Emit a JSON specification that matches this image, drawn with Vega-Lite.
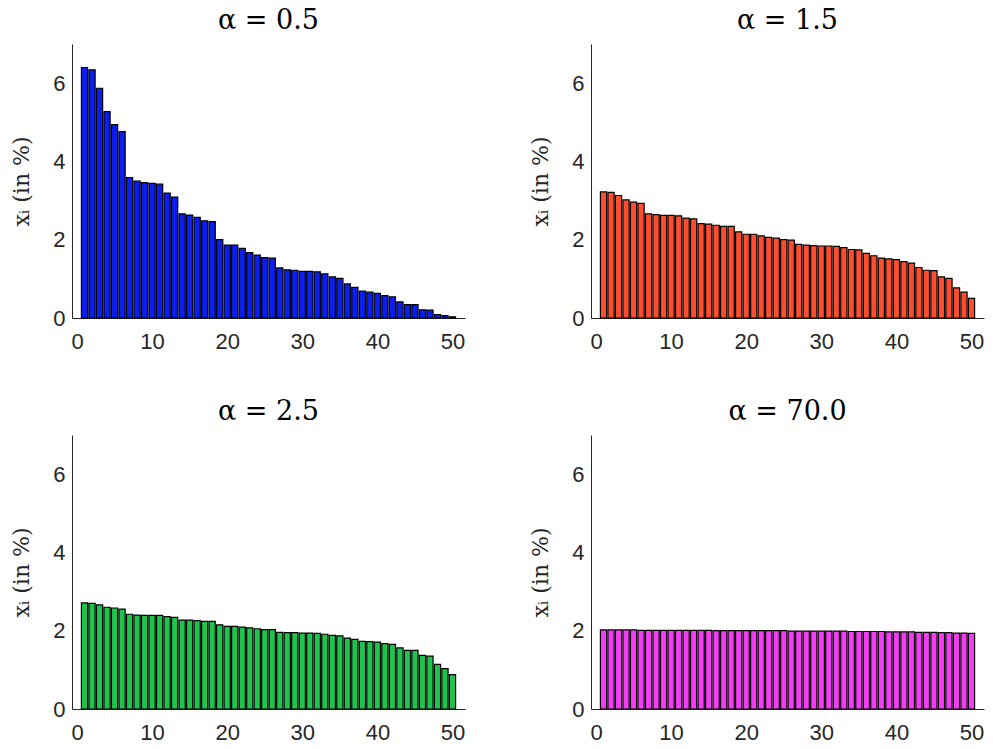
{
  "$schema": "https://vega.github.io/schema/vega-lite/v6.json",
  "padding": {"left": 10, "top": 7, "right": 5, "bottom": 5},
  "background": "white",
  "data": {"values": [
    {"p":"α = 0.5","i":1,"x":6.40},{"p":"α = 0.5","i":2,"x":6.34},{"p":"α = 0.5","i":3,"x":5.87},{"p":"α = 0.5","i":4,"x":5.27},{"p":"α = 0.5","i":5,"x":4.94},
    {"p":"α = 0.5","i":6,"x":4.76},{"p":"α = 0.5","i":7,"x":3.59},{"p":"α = 0.5","i":8,"x":3.50},{"p":"α = 0.5","i":9,"x":3.46},{"p":"α = 0.5","i":10,"x":3.44},
    {"p":"α = 0.5","i":11,"x":3.42},{"p":"α = 0.5","i":12,"x":3.19},{"p":"α = 0.5","i":13,"x":3.09},{"p":"α = 0.5","i":14,"x":2.66},{"p":"α = 0.5","i":15,"x":2.63},
    {"p":"α = 0.5","i":16,"x":2.57},{"p":"α = 0.5","i":17,"x":2.48},{"p":"α = 0.5","i":18,"x":2.46},{"p":"α = 0.5","i":19,"x":2.00},{"p":"α = 0.5","i":20,"x":1.86},
    {"p":"α = 0.5","i":21,"x":1.86},{"p":"α = 0.5","i":22,"x":1.78},{"p":"α = 0.5","i":23,"x":1.67},{"p":"α = 0.5","i":24,"x":1.61},{"p":"α = 0.5","i":25,"x":1.54},
    {"p":"α = 0.5","i":26,"x":1.53},{"p":"α = 0.5","i":27,"x":1.28},{"p":"α = 0.5","i":28,"x":1.23},{"p":"α = 0.5","i":29,"x":1.22},{"p":"α = 0.5","i":30,"x":1.19},
    {"p":"α = 0.5","i":31,"x":1.19},{"p":"α = 0.5","i":32,"x":1.18},{"p":"α = 0.5","i":33,"x":1.13},{"p":"α = 0.5","i":34,"x":1.05},{"p":"α = 0.5","i":35,"x":1.01},
    {"p":"α = 0.5","i":36,"x":0.87},{"p":"α = 0.5","i":37,"x":0.78},{"p":"α = 0.5","i":38,"x":0.69},{"p":"α = 0.5","i":39,"x":0.66},{"p":"α = 0.5","i":40,"x":0.63},
    {"p":"α = 0.5","i":41,"x":0.57},{"p":"α = 0.5","i":42,"x":0.54},{"p":"α = 0.5","i":43,"x":0.41},{"p":"α = 0.5","i":44,"x":0.34},{"p":"α = 0.5","i":45,"x":0.34},
    {"p":"α = 0.5","i":46,"x":0.21},{"p":"α = 0.5","i":47,"x":0.20},{"p":"α = 0.5","i":48,"x":0.09},{"p":"α = 0.5","i":49,"x":0.06},{"p":"α = 0.5","i":50,"x":0.03},

    {"p":"α = 1.5","i":1,"x":3.22},{"p":"α = 1.5","i":2,"x":3.21},{"p":"α = 1.5","i":3,"x":3.13},{"p":"α = 1.5","i":4,"x":3.02},{"p":"α = 1.5","i":5,"x":2.96},
    {"p":"α = 1.5","i":6,"x":2.93},{"p":"α = 1.5","i":7,"x":2.66},{"p":"α = 1.5","i":8,"x":2.64},{"p":"α = 1.5","i":9,"x":2.62},{"p":"α = 1.5","i":10,"x":2.62},
    {"p":"α = 1.5","i":11,"x":2.61},{"p":"α = 1.5","i":12,"x":2.55},{"p":"α = 1.5","i":13,"x":2.53},{"p":"α = 1.5","i":14,"x":2.41},{"p":"α = 1.5","i":15,"x":2.40},
    {"p":"α = 1.5","i":16,"x":2.37},{"p":"α = 1.5","i":17,"x":2.34},{"p":"α = 1.5","i":18,"x":2.34},{"p":"α = 1.5","i":19,"x":2.20},{"p":"α = 1.5","i":20,"x":2.14},
    {"p":"α = 1.5","i":21,"x":2.14},{"p":"α = 1.5","i":22,"x":2.10},{"p":"α = 1.5","i":23,"x":2.06},{"p":"α = 1.5","i":24,"x":2.04},{"p":"α = 1.5","i":25,"x":2.00},
    {"p":"α = 1.5","i":26,"x":1.99},{"p":"α = 1.5","i":27,"x":1.88},{"p":"α = 1.5","i":28,"x":1.86},{"p":"α = 1.5","i":29,"x":1.85},{"p":"α = 1.5","i":30,"x":1.84},
    {"p":"α = 1.5","i":31,"x":1.84},{"p":"α = 1.5","i":32,"x":1.83},{"p":"α = 1.5","i":33,"x":1.80},{"p":"α = 1.5","i":34,"x":1.75},{"p":"α = 1.5","i":35,"x":1.74},
    {"p":"α = 1.5","i":36,"x":1.65},{"p":"α = 1.5","i":37,"x":1.59},{"p":"α = 1.5","i":38,"x":1.53},{"p":"α = 1.5","i":39,"x":1.51},{"p":"α = 1.5","i":40,"x":1.49},
    {"p":"α = 1.5","i":41,"x":1.44},{"p":"α = 1.5","i":42,"x":1.40},{"p":"α = 1.5","i":43,"x":1.29},{"p":"α = 1.5","i":44,"x":1.22},{"p":"α = 1.5","i":45,"x":1.21},
    {"p":"α = 1.5","i":46,"x":1.05},{"p":"α = 1.5","i":47,"x":1.01},{"p":"α = 1.5","i":48,"x":0.77},{"p":"α = 1.5","i":49,"x":0.66},{"p":"α = 1.5","i":50,"x":0.50},

    {"p":"α = 2.5","i":1,"x":2.71},{"p":"α = 2.5","i":2,"x":2.70},{"p":"α = 2.5","i":3,"x":2.66},{"p":"α = 2.5","i":4,"x":2.60},{"p":"α = 2.5","i":5,"x":2.58},
    {"p":"α = 2.5","i":6,"x":2.55},{"p":"α = 2.5","i":7,"x":2.42},{"p":"α = 2.5","i":8,"x":2.40},{"p":"α = 2.5","i":9,"x":2.39},{"p":"α = 2.5","i":10,"x":2.39},
    {"p":"α = 2.5","i":11,"x":2.39},{"p":"α = 2.5","i":12,"x":2.36},{"p":"α = 2.5","i":13,"x":2.34},{"p":"α = 2.5","i":14,"x":2.27},{"p":"α = 2.5","i":15,"x":2.27},
    {"p":"α = 2.5","i":16,"x":2.26},{"p":"α = 2.5","i":17,"x":2.24},{"p":"α = 2.5","i":18,"x":2.24},{"p":"α = 2.5","i":19,"x":2.15},{"p":"α = 2.5","i":20,"x":2.11},
    {"p":"α = 2.5","i":21,"x":2.11},{"p":"α = 2.5","i":22,"x":2.09},{"p":"α = 2.5","i":23,"x":2.07},{"p":"α = 2.5","i":24,"x":2.05},{"p":"α = 2.5","i":25,"x":2.03},
    {"p":"α = 2.5","i":26,"x":2.03},{"p":"α = 2.5","i":27,"x":1.96},{"p":"α = 2.5","i":28,"x":1.95},{"p":"α = 2.5","i":29,"x":1.95},{"p":"α = 2.5","i":30,"x":1.94},
    {"p":"α = 2.5","i":31,"x":1.94},{"p":"α = 2.5","i":32,"x":1.93},{"p":"α = 2.5","i":33,"x":1.91},{"p":"α = 2.5","i":34,"x":1.88},{"p":"α = 2.5","i":35,"x":1.87},
    {"p":"α = 2.5","i":36,"x":1.81},{"p":"α = 2.5","i":37,"x":1.78},{"p":"α = 2.5","i":38,"x":1.73},{"p":"α = 2.5","i":39,"x":1.72},{"p":"α = 2.5","i":40,"x":1.71},
    {"p":"α = 2.5","i":41,"x":1.67},{"p":"α = 2.5","i":42,"x":1.65},{"p":"α = 2.5","i":43,"x":1.56},{"p":"α = 2.5","i":44,"x":1.50},{"p":"α = 2.5","i":45,"x":1.50},
    {"p":"α = 2.5","i":46,"x":1.37},{"p":"α = 2.5","i":47,"x":1.35},{"p":"α = 2.5","i":48,"x":1.14},{"p":"α = 2.5","i":49,"x":1.03},{"p":"α = 2.5","i":50,"x":0.88},

    {"p":"α = 70.0","i":1,"x":2.02},{"p":"α = 70.0","i":2,"x":2.02},{"p":"α = 70.0","i":3,"x":2.02},{"p":"α = 70.0","i":4,"x":2.02},{"p":"α = 70.0","i":5,"x":2.02},
    {"p":"α = 70.0","i":6,"x":2.01},{"p":"α = 70.0","i":7,"x":2.01},{"p":"α = 70.0","i":8,"x":2.01},{"p":"α = 70.0","i":9,"x":2.01},{"p":"α = 70.0","i":10,"x":2.01},
    {"p":"α = 70.0","i":11,"x":2.01},{"p":"α = 70.0","i":12,"x":2.01},{"p":"α = 70.0","i":13,"x":2.01},{"p":"α = 70.0","i":14,"x":2.01},{"p":"α = 70.0","i":15,"x":2.01},
    {"p":"α = 70.0","i":16,"x":2.00},{"p":"α = 70.0","i":17,"x":2.00},{"p":"α = 70.0","i":18,"x":2.00},{"p":"α = 70.0","i":19,"x":2.00},{"p":"α = 70.0","i":20,"x":2.00},
    {"p":"α = 70.0","i":21,"x":2.00},{"p":"α = 70.0","i":22,"x":2.00},{"p":"α = 70.0","i":23,"x":2.00},{"p":"α = 70.0","i":24,"x":2.00},{"p":"α = 70.0","i":25,"x":2.00},
    {"p":"α = 70.0","i":26,"x":1.99},{"p":"α = 70.0","i":27,"x":1.99},{"p":"α = 70.0","i":28,"x":1.99},{"p":"α = 70.0","i":29,"x":1.99},{"p":"α = 70.0","i":30,"x":1.99},
    {"p":"α = 70.0","i":31,"x":1.99},{"p":"α = 70.0","i":32,"x":1.99},{"p":"α = 70.0","i":33,"x":1.99},{"p":"α = 70.0","i":34,"x":1.98},{"p":"α = 70.0","i":35,"x":1.98},
    {"p":"α = 70.0","i":36,"x":1.98},{"p":"α = 70.0","i":37,"x":1.98},{"p":"α = 70.0","i":38,"x":1.98},{"p":"α = 70.0","i":39,"x":1.97},{"p":"α = 70.0","i":40,"x":1.97},
    {"p":"α = 70.0","i":41,"x":1.97},{"p":"α = 70.0","i":42,"x":1.97},{"p":"α = 70.0","i":43,"x":1.96},{"p":"α = 70.0","i":44,"x":1.96},{"p":"α = 70.0","i":45,"x":1.96},
    {"p":"α = 70.0","i":46,"x":1.95},{"p":"α = 70.0","i":47,"x":1.95},{"p":"α = 70.0","i":48,"x":1.94},{"p":"α = 70.0","i":49,"x":1.94},{"p":"α = 70.0","i":50,"x":1.93}
  ]},
  "columns": 2,
  "bounds": "flush",
  "spacing": {"column": 126, "row": 117},
  "facet": {
    "field": "p",
    "type": "nominal",
    "sort": ["α = 0.5", "α = 1.5", "α = 2.5", "α = 70.0"],
    "title": null,
    "header": {
      "labelFont": "DejaVu Serif",
      "labelFontSize": 27,
      "labelColor": "black",
      "labelPadding": 9
    }
  },
  "resolve": {"axis": {"x": "independent", "y": "independent"}},
  "spec": {
    "width": 393,
    "height": 274,
    "mark": {"type": "bar", "size": 6.2, "stroke": "black", "strokeWidth": 1.2},
    "encoding": {
      "x": {
        "field": "i", "type": "quantitative",
        "scale": {"domain": [0, 51], "nice": false, "zero": false},
        "axis": {"values": [0, 10, 20, 30, 40, 50], "title": null, "grid": false,
                 "labelFont": "Liberation Sans", "labelFontSize": 22, "labelColor": "#262626",
                 "domainColor": "#262626", "tickColor": "#262626", "ticks": false, "labelPadding": 13, "labelFlush": false}
      },
      "y": {
        "field": "x", "type": "quantitative",
        "scale": {"domain": [0, 7], "nice": false},
        "axis": {"values": [0, 2, 4, 6], "title": "xᵢ (in %)", "grid": false,
                 "titleFont": "DejaVu Serif", "titleFontWeight": "normal", "titleFontSize": 22, "titleColor": "#262626",
                 "titlePadding": 19,
                 "labelFont": "Liberation Sans", "labelFontSize": 22, "labelColor": "#262626",
                 "domainColor": "#262626", "ticks": false, "labelPadding": 7}
      },
      "color": {
        "field": "p", "type": "nominal",
        "scale": {"domain": ["α = 0.5", "α = 1.5", "α = 2.5", "α = 70.0"], "range": ["#0b1ef2", "#ff4d2e", "#1ec44c", "#f53cf5"]},
        "legend": null
      }
    }
  },
  "config": {"view": {"stroke": null}}
}
